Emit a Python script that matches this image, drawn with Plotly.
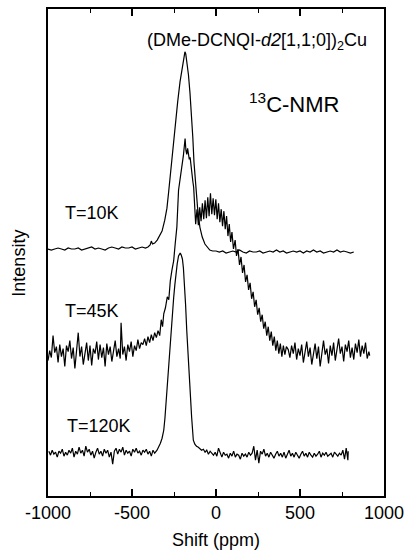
import plotly.graph_objects as go

# ---------------- data (shift in ppm, intensity relative to each baseline) ----------------
t10k_points = [
    (-1000, 0), (-980, -1), (-960, 0), (-940, 1), (-920, 0), (-900, -1), (-880, 1), (-860, 0),
    (-840, 0), (-820, 1), (-800, -1), (-780, 0), (-760, 1), (-740, 2), (-720, 0), (-700, 1),
    (-680, 0), (-660, -1), (-640, 1), (-620, 2), (-600, 1), (-580, 0), (-560, 2), (-540, 1),
    (-520, 1), (-500, 2), (-480, 0), (-460, 1), (-440, 2), (-420, 1),
    (-405, 2), (-392, 4), (-385, 8), (-378, 5), (-365, 6), (-350, 9), (-335, 13), (-321, 18),
    (-305, 29), (-292, 41), (-282, 57), (-272, 75), (-258, 100), (-243, 125), (-228, 148),
    (-214, 168), (-200, 185), (-190, 195), (-185, 198), (-180, 196), (-172, 186), (-164, 175),
    (-155, 157), (-145, 135), (-138, 112), (-131, 87), (-122, 64), (-110, 42), (-96, 22),
    (-82, 12), (-66, 5), (-50, 1), (-37, -1), (-20, -2),
    (0, -2), (20, -3), (40, -2), (60, -4), (80, -3), (100, -2), (120, -3), (140, -1),
    (160, -3), (180, -4), (200, -2), (220, -3), (240, -3), (260, -2), (280, -4), (300, -3),
    (320, -2), (340, -3), (360, -1), (380, -3), (400, -2), (420, -4), (440, -3), (460, -2),
    (480, -3), (500, -2), (520, -4), (540, -2), (560, -3), (580, -1), (600, -3), (620, -2),
    (640, -4), (660, -3), (680, -2), (700, -3), (720, -1), (740, -3), (760, -2), (780, -3),
    (800, -4), (820, -3),
]

t45k_points = [
    (-1000, -6), (-990, 4), (-980, -3), (-970, 19), (-960, 2), (-950, 8), (-940, -8), (-930, 10),
    (-920, -2), (-910, 6), (-900, -12), (-890, 9), (-880, 3), (-870, 14), (-860, -4), (-850, 7),
    (-840, -14), (-830, 5), (-820, 22), (-810, -2), (-800, 8), (-790, -10), (-780, 4), (-770, 12),
    (-760, -6), (-750, 9), (-740, -11), (-730, 6), (-720, 1), (-710, 13), (-700, -5), (-690, 10),
    (-680, -3), (-670, 7), (-660, -12), (-650, 11), (-640, 0), (-630, 8), (-620, -7), (-610, 5),
    (-600, 14), (-590, -2), (-580, 6), (-570, -4), (-565, 32), (-555, 0), (-545, 8), (-535, -6),
    (-525, 10), (-515, 3), (-505, 13), (-495, -2), (-485, 9), (-475, 4), (-465, 15), (-455, 6),
    (-445, 12), (-435, 10), (-425, 16), (-415, 9), (-405, 18), (-395, 12), (-385, 20), (-375, 14),
    (-365, 22), (-355, 17), (-345, 24), (-335, 19), (-326, 35), (-318, 28), (-311, 41), (-301, 47),
    (-290, 58), (-281, 55), (-272, 74), (-262, 85), (-252, 94), (-243, 111), (-233, 128),
    (-223, 165), (-214, 178), (-204, 188), (-194, 200), (-184, 217),
    (-179, 205), (-174, 201), (-169, 207), (-164, 202), (-159, 196), (-154, 198), (-148, 186),
    (-143, 180), (-138, 174), (-133, 168),
    (-128, 150), (-121, 131), (-113, 146), (-105, 130), (-97, 148), (-89, 134), (-81, 152),
    (-73, 136), (-65, 155), (-57, 137), (-49, 158), (-41, 139), (-33, 162), (-25, 141),
    (-17, 157), (-9, 140), (-1, 156), (7, 136), (15, 152), (23, 133), (31, 146), (39, 129),
    (47, 144), (55, 126), (63, 139), (71, 119), (79, 131), (87, 113), (95, 123), (104, 106),
    (114, 115),
    (122, 99), (131, 106), (140, 90), (149, 98), (158, 82), (167, 90), (176, 73), (185, 80),
    (194, 65), (203, 72), (212, 56), (221, 63), (230, 48), (239, 55), (248, 40), (257, 47),
    (266, 33), (275, 40), (284, 26), (293, 33), (302, 19), (311, 28), (320, 14), (329, 23),
    (338, 9), (347, 18), (356, 4), (365, 14), (374, 1), (383, 11), (392, -2), (401, 9),
    (410, 0), (419, 8),
    (430, 5), (440, -3), (450, 9), (460, 1), (470, 12), (480, -5), (490, 6), (500, -1),
    (510, 10), (520, -8), (530, 4), (540, 13), (550, -2), (560, 7), (570, -10), (580, 3),
    (590, 11), (600, -4), (610, 8), (620, -12), (630, 2), (640, 14), (650, 0), (660, 6),
    (670, -9), (680, 9), (690, -1), (700, 12), (710, -6), (720, 5), (730, 16), (740, 1),
    (750, 8), (760, -7), (770, 10), (780, 3), (790, 14), (800, -3), (810, 7), (820, -5),
    (830, 11), (840, 2), (850, 15), (860, -2), (870, 9), (880, 1), (890, 12), (900, -4),
    (910, 3), (915, -1),
]

t120k_points = [
    (-995, 3), (-985, -1), (-975, 4), (-965, 0), (-955, 2), (-945, -3), (-935, 3), (-925, 1),
    (-915, 5), (-905, -2), (-895, 2), (-885, -1), (-875, 4), (-865, 1), (-855, 6), (-845, -3),
    (-835, 3), (-825, 0), (-815, 7), (-805, 1), (-795, 4), (-785, -2), (-775, 8), (-765, 2),
    (-755, 5), (-745, -1), (-735, 3), (-725, -4), (-715, 2), (-705, 6), (-695, 0), (-685, 3),
    (-675, -2), (-665, 5), (-655, 1), (-645, 4), (-635, -3), (-625, 2), (-615, -10), (-605, 3),
    (-595, 6), (-585, 0), (-575, 5), (-565, 2), (-555, 7), (-545, -1), (-535, 4), (-525, 1),
    (-515, 3), (-505, -2), (-495, 5), (-485, 2), (-475, 6), (-465, 1), (-455, 3), (-445, -1),
    (-435, 4), (-425, 2), (-415, 5), (-405, 0), (-395, 3), (-385, -2), (-375, 4), (-365, 1),
    (-351, 4), (-341, 7), (-331, 11), (-321, 16), (-311, 24), (-304, 36), (-298, 51), (-290, 70),
    (-282, 91), (-274, 108), (-266, 124), (-259, 141), (-252, 157), (-245, 170), (-239, 181),
    (-231, 191), (-223, 199), (-218, 201), (-213, 202), (-207, 200), (-200, 196), (-194, 187),
    (-188, 174), (-181, 150), (-174, 124), (-169, 106), (-164, 91), (-159, 80), (-154, 68),
    (-150, 52), (-145, 37), (-140, 24), (-135, 14), (-126, 10), (-116, 8), (-105, 7), (-95, 5),
    (-86, 4),
    (-75, 5), (-65, 2), (-55, 4), (-45, 0), (-35, 3), (-25, 1), (-15, -1), (-5, 2), (5, -2),
    (15, 6), (25, 1), (35, -3), (45, 2), (55, -1), (65, 0), (75, -4), (85, 1), (95, -2),
    (105, 3), (115, -3), (125, 0), (135, -1), (145, -5), (155, 1), (165, -2), (175, 0),
    (185, -3), (195, 2), (205, -1), (215, 1), (225, 8), (235, -6), (245, 4), (255, -9),
    (265, 3), (275, 0), (285, 5), (295, -2), (305, 1), (315, -3), (325, 2), (335, -1),
    (345, -4), (355, 0), (365, 3), (375, -2), (385, 1), (395, -3), (405, 2), (415, -4),
    (425, 0), (435, 4), (445, -2), (455, 1), (465, -3), (475, 2), (485, -1), (495, -4),
    (505, 0), (515, 3), (525, -2), (535, 1), (545, -3), (555, 2), (565, -1), (575, -3),
    (585, 1), (595, -2), (605, 0), (615, 3), (625, -3), (635, 1), (645, -1), (655, 2),
    (665, -2), (675, 0), (685, 1), (695, -3), (705, 2), (715, 0), (725, -2), (735, 1),
    (745, -1), (755, 4), (765, -5), (775, 6), (785, -6), (787, 3),
]

series_names = ["T=10K", "T=45K", "T=120K"]
series_points = [t10k_points, t45k_points, t120k_points]
series_offsets = [248, 142, 42]          # vertical stacking offsets (arb. units)

x_tick_vals = [-1000, -500, 0, 500, 1000]
x_tick_text = ["-1000", "-500", "0", "500", "1000"]
x_minor_vals = [-750, -250, 250, 750]

# ---------------- figure ----------------
FONT = "Liberation Sans, Arial, Helvetica, sans-serif"
fig = go.Figure()

for name, pts, off in zip(series_names, series_points, series_offsets):
    fig.add_trace(go.Scatter(
        x=[p[0] for p in pts],
        y=[p[1] + off for p in pts],
        mode="lines",
        line=dict(color="black", width=1.2),
        name=name,
        showlegend=False,
    ))

# curve labels
label_pos = [(-910, 284), (-910, 186), (-898, 70)]
for name, (lx, ly) in zip(series_names, label_pos):
    fig.add_annotation(x=lx, y=ly, xref="x", yref="y", text=name, showarrow=False,
                       xanchor="left", yanchor="middle",
                       font=dict(family=FONT, size=18, color="black"))

fig.add_annotation(x=245, y=456, xref="x", yref="y",
                   text="(DMe-DCNQI-<i>d2</i>[1,1;0])<sub>2</sub>Cu",
                   showarrow=False, xanchor="center", yanchor="middle",
                   font=dict(family=FONT, size=18, color="black"))
fig.add_annotation(x=465, y=395, xref="x", yref="y",
                   text="<sup>13</sup>C-NMR",
                   showarrow=False, xanchor="center", yanchor="middle",
                   font=dict(family=FONT, size=22, color="black"))

fig.add_annotation(x=-0.085, y=0.478, xref="paper", yref="paper", text="Intensity",
                   textangle=-90, showarrow=False, xanchor="center", yanchor="middle",
                   font=dict(family=FONT, size=18, color="black"))

fig.update_layout(
    width=411, height=554,
    margin=dict(l=48, r=23, t=7, b=58),
    paper_bgcolor="white", plot_bgcolor="white",
    font=dict(family=FONT, size=18, color="black"),
    xaxis=dict(
        range=[-1000, 1000],
        tickvals=x_tick_vals, ticktext=x_tick_text,
        ticks="inside", ticklen=7, tickwidth=1.5, tickcolor="black",
        minor=dict(tickvals=x_minor_vals, ticks="inside", ticklen=4, tickwidth=1.2,
                   tickcolor="black"),
        showline=True, linecolor="black", linewidth=1.5, mirror="allticks",
        showgrid=False, zeroline=False,
        tickfont=dict(family=FONT, size=18, color="black"),
        title=dict(text="Shift (ppm)", font=dict(family=FONT, size=18, color="black"),
                   standoff=11),
    ),
    yaxis=dict(
        range=[0, 489],
        showticklabels=False, ticks="",
        showline=True, linecolor="black", linewidth=1.5, mirror=True,
        showgrid=False, zeroline=False,
    ),
)

fig.write_html("out.html")
